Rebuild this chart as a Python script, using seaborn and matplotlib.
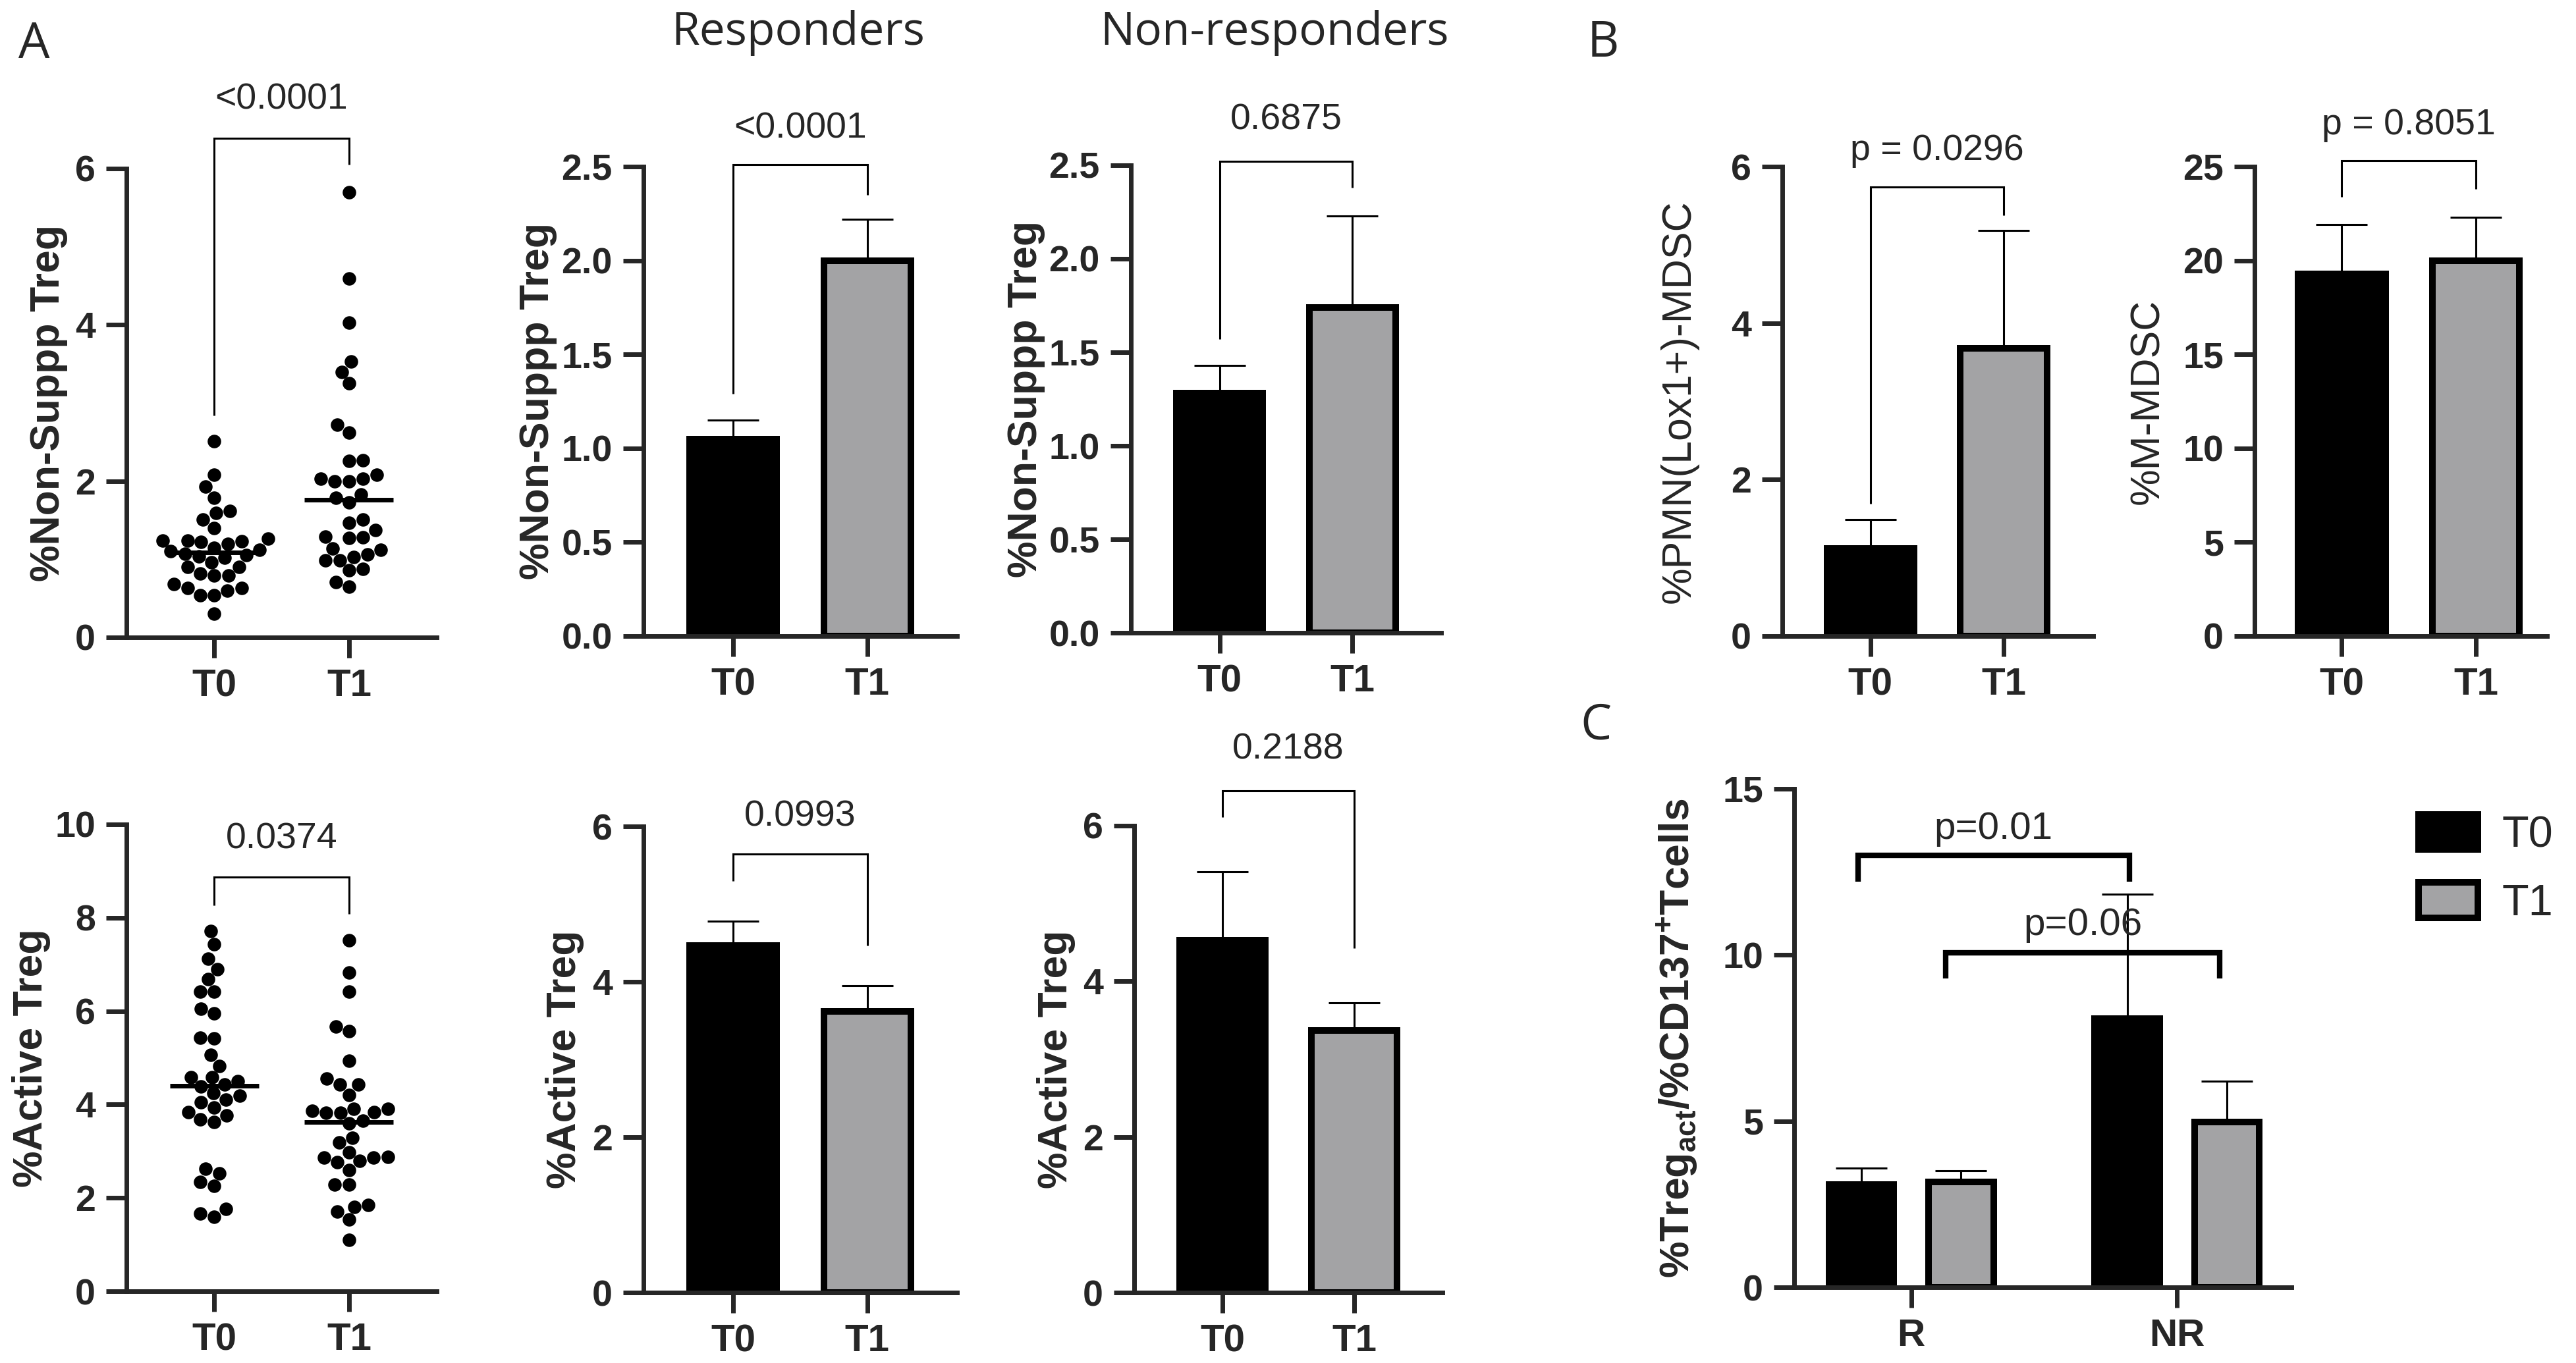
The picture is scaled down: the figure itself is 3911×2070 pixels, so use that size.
import numpy as np
import pandas as pd
import seaborn as sns
import matplotlib.pyplot as plt
from matplotlib import font_manager as fm

# ---- data ----
times = ['T0', 'T1']

# panel A, scatter (%Non-Suppp Treg)
nonsupp_t0 = [2.51, 2.08, 1.93, 1.79, 1.62, 1.59, 1.51, 1.40, 1.26, 1.24, 1.24, 1.23,
              1.22, 1.20, 1.15, 1.12, 1.10, 1.07, 1.05, 1.04, 1.02, 0.96, 0.90, 0.90,
              0.82, 0.79, 0.79, 0.68, 0.63, 0.63, 0.60, 0.54, 0.54, 0.30]
nonsupp_t1 = [5.70, 4.59, 4.03, 3.53, 3.40, 3.25, 2.72, 2.62, 2.27, 2.26, 2.08, 2.03,
              2.03, 2.00, 2.00, 1.83, 1.79, 1.73, 1.51, 1.47, 1.37, 1.29, 1.28, 1.27,
              1.14, 1.12, 1.06, 1.03, 0.99, 0.99, 0.88, 0.86, 0.71, 0.65]
# panel A, scatter (%Active Treg)
active_t0 = [7.71, 7.43, 7.12, 6.90, 6.68, 6.42, 6.42, 6.05, 5.95, 5.43, 5.41, 5.06,
             4.83, 4.58, 4.58, 4.50, 4.43, 4.38, 4.24, 4.19, 4.10, 4.05, 3.94, 3.84,
             3.77, 3.68, 3.63, 2.62, 2.53, 2.34, 2.26, 1.76, 1.67, 1.60]
active_t1 = [7.52, 6.82, 6.42, 5.67, 5.57, 4.93, 4.55, 4.43, 4.43, 4.21, 3.91, 3.91,
             3.87, 3.84, 3.82, 3.82, 3.66, 3.59, 3.29, 3.19, 2.98, 2.88, 2.86, 2.86,
             2.79, 2.76, 2.60, 2.28, 2.28, 1.85, 1.81, 1.71, 1.54, 1.10]

# bar panels: mean and upper error (SEM)
resp_nonsupp = [1.05, 2.00]
resp_nonsupp_err = [0.10, 0.22]
nonresp_nonsupp = [1.28, 1.74]
nonresp_nonsupp_err = [0.15, 0.49]
resp_active = [4.47, 3.62]
resp_active_err = [0.31, 0.33]
nonresp_active = [4.53, 3.37]
nonresp_active_err = [0.88, 0.35]
pmn_mdsc = [1.12, 3.68]
pmn_mdsc_err = [0.37, 1.50]
m_mdsc = [19.3, 20.0]
m_mdsc_err = [2.6, 2.3]

# panel C
groups = ['R', 'NR']
ratio_t0 = [3.09, 8.08]
ratio_t0_err = [0.50, 3.75]
ratio_t1 = [3.17, 4.97]
ratio_t1_err = [0.33, 1.23]

# ---- style ----
sns.set_style('ticks')
names = {f.name for f in fm.fontManager.ttflist}
SANS = ['Liberation Sans', 'DejaVu Sans']
HUMAN = ['Open Sans', 'DejaVu Sans']
plt.rcParams['font.family'] = SANS
plt.rcParams['mathtext.fontset'] = 'custom'
plt.rcParams['mathtext.rm'] = 'Liberation Sans:bold'
plt.rcParams['mathtext.bf'] = 'Liberation Sans:bold'

BLACK = '#000000'
GREY = '#a2a2a6'
W, H = 3911, 2070
fig = plt.figure(figsize=(W / 200, H / 200), dpi=200)


def add_ax(x0, x1, ytop, ybot):
    # pixel box of the plotting area -> figure fraction
    return fig.add_axes([x0 / W, 1 - ybot / H, (x1 - x0) / W, (ybot - ytop) / H])


def style(ax, ticks, fmt, lab_weight='bold'):
    ax.set_ylim(0, ticks[-1])
    ax.set_yticks(ticks)
    ax.set_yticklabels([fmt.format(t) for t in ticks], fontweight='bold', fontsize=20)
    for lab in ax.get_xticklabels():
        lab.set_fontweight('bold')
        lab.set_fontsize(21)
    sns.despine(ax=ax)
    for s in ['left', 'bottom']:
        ax.spines[s].set_linewidth(2.5)
    ax.tick_params(length=11, width=2.5, direction='out', pad=6)
    ax.set_xlabel('')
    ax.yaxis.label.set_fontweight(lab_weight)
    ax.yaxis.label.set_fontsize(22.5)


def bracket(ax, x1, x2, top, h1, h2, text, ty, lw=1.1, fs=20):
    ax.plot([x1, x1, x2, x2], [h1, top, top, h2], color='k', lw=lw,
            clip_on=False, solid_capstyle='butt', solid_joinstyle='miter')
    ax.text((x1 + x2) / 2, ty, text, ha='center', va='center', fontsize=fs,
            clip_on=False)


def scatter_panel(ax, t0, t1, ylabel, ticks):
    df = pd.DataFrame({'time': ['T0'] * len(t0) + ['T1'] * len(t1), 'val': t0 + t1})
    sns.swarmplot(data=df, x='time', y='val', order=times, color='black',
                  size=7.4, ax=ax, zorder=3)
    meds = df.groupby('time')['val'].median()
    for i, t in enumerate(times):
        ax.hlines(meds[t], i - 0.33, i + 0.33, color='black', lw=2.5, zorder=2)
    ax.set_xlim(-0.65, 1.65)
    ax.set_ylabel(ylabel)
    style(ax, ticks, '{:.0f}')


def bar_panel(ax, vals, errs, ylabel, ticks, fmt, xlim=(-0.67, 1.67), lab_weight='bold'):
    df = pd.DataFrame({'time': times, 'val': vals})
    sns.barplot(data=df, x='time', y='val', hue='time', palette=[BLACK, GREY],
                width=0.65, edgecolor='black', linewidth=3.6, legend=False,
                errorbar=None, ax=ax, zorder=2)
    ax.errorbar(range(len(vals)), vals, yerr=[np.zeros(len(vals)), errs], fmt='none',
                ecolor='black', elinewidth=1.1, capsize=14, capthick=1.1, zorder=1)
    ax.set_xlim(*xlim)
    ax.set_ylabel(ylabel)
    style(ax, ticks, fmt, lab_weight=lab_weight)


# ---- panel A ----
ax1 = add_ax(192, 663, 256, 968)
scatter_panel(ax1, nonsupp_t0, nonsupp_t1, '%Non-Suppp Treg', [0, 2, 4, 6])
ax1.yaxis.set_label_coords(-0.19, 0.5)
bracket(ax1, 0, 1, 6.39, 2.84, 6.05, '<0.0001', 6.88)

ax2 = add_ax(192, 663, 1252, 1961)
scatter_panel(ax2, active_t0, active_t1, '%Active Treg', [0, 2, 4, 6, 8, 10])
ax2.yaxis.set_label_coords(-0.245, 0.5)
bracket(ax2, 0, 1, 8.87, 8.27, 8.08, '0.0374', 9.68)

ax3 = add_ax(977, 1453, 253, 966)
bar_panel(ax3, resp_nonsupp, resp_nonsupp_err, '%Non-Suppp Treg',
          [0, 0.5, 1.0, 1.5, 2.0, 2.5], '{:.1f}')
ax3.yaxis.set_label_coords(-0.275, 0.5)
bracket(ax3, 0, 1, 2.51, 1.29, 2.35, '<0.0001', 2.70)

ax4 = add_ax(977, 1453, 1255, 1963)
bar_panel(ax4, resp_active, resp_active_err, '%Active Treg', [0, 2, 4, 6], '{:.0f}')
ax4.yaxis.set_label_coords(-0.19, 0.5)
bracket(ax4, 0, 1, 5.64, 5.30, 4.47, '0.0993', 6.12)

ax5 = add_ax(1717, 2188, 251, 961)
bar_panel(ax5, nonresp_nonsupp, nonresp_nonsupp_err, '%Non-Suppp Treg',
          [0, 0.5, 1.0, 1.5, 2.0, 2.5], '{:.1f}')
ax5.yaxis.set_label_coords(-0.275, 0.5)
bracket(ax5, 0, 1, 2.52, 1.57, 2.38, '0.6875', 2.74)

ax6 = add_ax(1722, 2190, 1254, 1963)
bar_panel(ax6, nonresp_active, nonresp_active_err, '%Active Treg', [0, 2, 4, 6], '{:.0f}')
ax6.yaxis.set_label_coords(-0.19, 0.5)
bracket(ax6, 0, 1, 6.45, 6.11, 4.43, '0.2188', 6.98)

fig.text(1212 / W, 1 - 50 / H, 'Responders', ha='center', va='center',
         fontsize=25, family=HUMAN)
fig.text(1935 / W, 1 - 50 / H, 'Non-responders', ha='center', va='center',
         fontsize=25, family=HUMAN)

# ---- panel B ----
ax7 = add_ax(2706, 3178, 253, 966)
bar_panel(ax7, pmn_mdsc, pmn_mdsc_err, '%PMN(Lox1+)-MDSC', [0, 2, 4, 6], '{:.0f}',
          xlim=(-0.66, 1.67), lab_weight='normal')
ax7.yaxis.set_label_coords(-0.27, 0.5)
bracket(ax7, 0, 1, 5.74, 1.69, 5.38, 'p = 0.0296', 6.2)

ax8 = add_ax(3423, 3867, 253, 966)
bar_panel(ax8, m_mdsc, m_mdsc_err, '%M-MDSC', [0, 5, 10, 15, 20, 25], '{:.0f}',
          xlim=(-0.65, 1.53), lab_weight='normal')
ax8.yaxis.set_label_coords(-0.30, 0.5)
bracket(ax8, 0, 1, 25.3, 23.4, 23.8, 'p = 0.8051', 27.2)

# ---- panel C ----
ax9 = add_ax(2724, 3479, 1198, 1955)
dfc = pd.DataFrame({'group': groups * 2, 'time': ['T0'] * 2 + ['T1'] * 2,
                    'val': ratio_t0 + ratio_t1})
sns.barplot(data=dfc, x='group', y='val', hue='time', order=groups, hue_order=times,
            palette=[BLACK, GREY], width=0.75, gap=0.35, edgecolor='black',
            linewidth=3.6, errorbar=None, ax=ax9, zorder=2)
for k, (vals, errs) in enumerate([(ratio_t0, ratio_t0_err), (ratio_t1, ratio_t1_err)]):
    xs = [bar.get_x() + bar.get_width() / 2 for bar in ax9.containers[k]]
    ax9.errorbar(xs, vals, yerr=[np.zeros(len(vals)), errs], fmt='none', ecolor='black',
                 elinewidth=1.1, capsize=14, capthick=1.1, zorder=1)
ax9.set_xlim(-0.44, 1.43)
ax9.set_ylabel(r'%Treg$_{\mathregular{act}}$/%CD137$^{\mathregular{+}}$Tcells')
style(ax9, [0, 5, 10, 15], '{:.0f}')
ax9.yaxis.set_label_coords(-0.19, 0.5)
bracket(ax9, -0.20, 0.82, 13.0, 12.2, 12.2, 'p=0.01', 13.8, lw=3.0, fs=21)
bracket(ax9, 0.13, 1.16, 10.07, 9.3, 9.3, 'p=0.06', 10.9, lw=3.0, fs=21)
ax9.legend(frameon=False, loc='upper left', bbox_to_anchor=(3645 / W, 1 - 1210 / H),
           bbox_transform=fig.transFigure, handlelength=1.35, handleheight=0.85,
           labelspacing=0.6, handletextpad=0.55, fontsize=24, borderaxespad=0)

# panel letters
for letter, x, y in [('A', 52, 69), ('B', 2434, 66), ('C', 2423, 1103)]:
    fig.text(x / W, 1 - y / H, letter, ha='center', va='center', fontsize=27,
             family=HUMAN)

fig.savefig('out.png', dpi=200, facecolor='white')
